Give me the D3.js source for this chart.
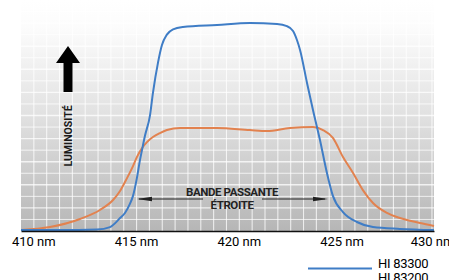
<!DOCTYPE html>
<html lang="fr">
<head>
  <meta charset="UTF-8">
  <title>Bande passante</title>
  <script src="https://cdn.jsdelivr.net/npm/d3@7"></script>
  <style>
    body { margin: 0; background: #fff; font-family: Roboto, sans-serif; }
    svg { display: block; }
  </style>
</head>
<body>
  <svg width="449" height="280"></svg>
  <script>
    // data (wavelength in nm, relative luminosity 0-100)
    const blueNm = [409.4, 411.3, 413.1, 413.73, 414.22, 414.46, 414.7, 414.85, 415.04, 415.19, 415.29, 415.43, 415.68, 415.82, 416.07, 416.26, 416.5, 416.8, 417.28, 418.94, 420.54, 421.86, 422.34, 422.64, 422.83, 422.98, 423.32, 423.61, 423.95, 424.29, 424.58, 425.07, 425.75, 426.53, 427.84, 429.5];
    const blueVal = [0.4, 0.4, 0.65, 1.7, 5.6, 7.8, 11.7, 15.2, 22.9, 30.7, 35.1, 41.1, 50.2, 59.7, 73, 80.5, 85, 87.3, 88.3, 89.2, 90, 89.6, 88.7, 86.6, 82.7, 78.4, 64.1, 52.4, 39.4, 25.1, 15.2, 8.2, 3.9, 1.7, 0.9, 0.4];

    const orangeNm = [409.4, 410.81, 412.27, 413.24, 413.88, 414.22, 414.56, 414.85, 415.04, 415.29, 415.53, 415.82, 416.16, 416.5, 417.14, 418.94, 420.54, 421.37, 422.49, 423.61, 424.1, 424.58, 425.07, 425.56, 426.04, 426.53, 427.21, 427.84, 428.82, 429.5];
    const orangeVal = [0.4, 1.7, 5.2, 9.1, 13.4, 17.3, 22.9, 28.1, 32, 35.9, 38.5, 40.7, 42.4, 43.7, 44.6, 44.6, 43.7, 43.3, 44.6, 45, 43.7, 40.3, 32, 25.1, 17.7, 12.1, 7.8, 5.6, 3.5, 2.2];

    const tickNm = [410, 415, 420, 425, 430];
    const seriesNames = ['HI 83300', 'HI 83200'];
    const seriesColors = ['#3f7dc6', '#e2824f'];

    const svg = d3.select('svg');
    const plotLeft = 21, plotRight = 434, plotTop = 0, plotBottom = 231;

    const x = d3.scaleLinear().domain([409.4, 429.5]).range([plotLeft, plotRight]);
    const y = d3.scaleLinear().domain([0, 100]).range([plotBottom, plotTop]);

    // background gradient
    const defs = svg.append('defs');
    const grad = defs.append('linearGradient')
      .attr('id', 'bg').attr('x1', 0).attr('y1', 0).attr('x2', 0).attr('y2', 1);
    grad.append('stop').attr('offset', '0%').attr('stop-color', '#ffffff');
    grad.append('stop').attr('offset', '12%').attr('stop-color', '#fcfcfc');
    grad.append('stop').attr('offset', '50%').attr('stop-color', '#e1e1e1');
    grad.append('stop').attr('offset', '100%').attr('stop-color', '#b6b6b6');

    svg.append('rect')
      .attr('x', plotLeft).attr('y', plotTop)
      .attr('width', plotRight - plotLeft).attr('height', plotBottom - plotTop)
      .attr('fill', 'url(#bg)');

    // grid
    const grid = svg.append('g').attr('stroke', '#fff');
    const vLines = d3.range(0, 33).map(i => 409.4 + i * 0.625).filter(v => v > 409.5 && v < 429.45);
    grid.selectAll('.v').data(vLines).join('line')
      .attr('x1', d => x(d)).attr('x2', d => x(d))
      .attr('y1', plotTop).attr('y2', plotBottom)
      .attr('stroke-width', 1.1)
      .attr('stroke-opacity', 0.75);
    grid.selectAll('.h').data(d3.range(5, 100, 5)).join('line')
      .attr('x1', plotLeft).attr('x2', plotRight)
      .attr('y1', d => y(d)).attr('y2', d => y(d))
      .attr('stroke-width', d => d % 10 === 0 ? 1.4 : 1)
      .attr('stroke-opacity', 0.75);

    // curves
    const line = d3.line()
      .x(d => x(d[0]))
      .y(d => y(d[1]))
      .curve(d3.curveMonotoneX);

    const orange = orangeNm.map((v, i) => [v, orangeVal[i]]);
    const blue = blueNm.map((v, i) => [v, blueVal[i]]);

    svg.append('path').datum(orange)
      .attr('d', line).attr('fill', 'none')
      .attr('stroke', seriesColors[1]).attr('stroke-width', 2);
    svg.append('path').datum(blue)
      .attr('d', line).attr('fill', 'none')
      .attr('stroke', seriesColors[0]).attr('stroke-width', 2);

    // x axis
    const xAxis = svg.append('g')
      .attr('transform', `translate(0,${plotBottom})`)
      .call(d3.axisBottom(x).tickValues(tickNm).tickFormat(d => d + ' nm').tickSize(0).tickPadding(6));
    xAxis.select('.domain').attr('stroke', '#111').attr('stroke-width', 1.6);
    xAxis.selectAll('text')
      .attr('fill', '#000')
      .style('font-family', 'Roboto, sans-serif')
      .style('font-size', '13px')
      .attr('dx', d => Math.min(0, 432 - x(d)));

    // big arrow + label
    svg.append('path')
      .attr('d', 'M68,46 L80,63 L72.5,63 L72.5,92 L63.5,92 L63.5,63 L56,63 Z')
      .attr('fill', '#000');
    svg.append('text')
      .attr('transform', 'translate(72,136) rotate(-90)')
      .attr('text-anchor', 'middle')
      .style('font-family', 'Roboto, sans-serif')
      .style('font-weight', 'bold')
      .style('font-size', '10.5px')
      .attr('fill', '#1a1a1a')
      .text('LUMINOSITÉ');

    // bandwidth annotation
    const ann = svg.append('g').attr('fill', '#222')
      .style('font-family', 'Roboto, sans-serif')
      .style('font-weight', 'bold')
      .style('font-size', '11.5px')
      .attr('text-anchor', 'middle');
    ann.append('text').attr('x', 232).attr('y', 195.5).attr('letter-spacing', -0.4).text('BANDE PASSANTE');
    ann.append('text').attr('x', 232).attr('y', 208.5).attr('letter-spacing', -0.4).text('ÉTROITE');

    svg.append('line').attr('x1', 139).attr('x2', 203).attr('y1', 199).attr('y2', 199)
      .attr('stroke', '#222').attr('stroke-width', 1.2);
    svg.append('line').attr('x1', 262).attr('x2', 325).attr('y1', 199).attr('y2', 199)
      .attr('stroke', '#222').attr('stroke-width', 1.2);
    svg.append('path').attr('d', 'M137,199 L152,196.8 L152,201.2 Z').attr('fill', '#222');
    svg.append('path').attr('d', 'M328,199 L313,196.8 L313,201.2 Z').attr('fill', '#222');

    // legend
    const legend = svg.append('g')
      .style('font-family', 'Roboto, sans-serif')
      .style('font-size', '13px');
    seriesNames.forEach((name, i) => {
      const ly = 268.5 + i * 12.5;
      legend.append('line')
        .attr('x1', 308).attr('x2', 372).attr('y1', ly).attr('y2', ly)
        .attr('stroke', seriesColors[i]).attr('stroke-width', 2);
      legend.append('text')
        .attr('x', 378).attr('y', ly - 0.5 + i * 1.5)
        .attr('fill', '#000')
        .attr('letter-spacing', -0.3)
        .text(name);
    });
  </script>
</body>
</html>
